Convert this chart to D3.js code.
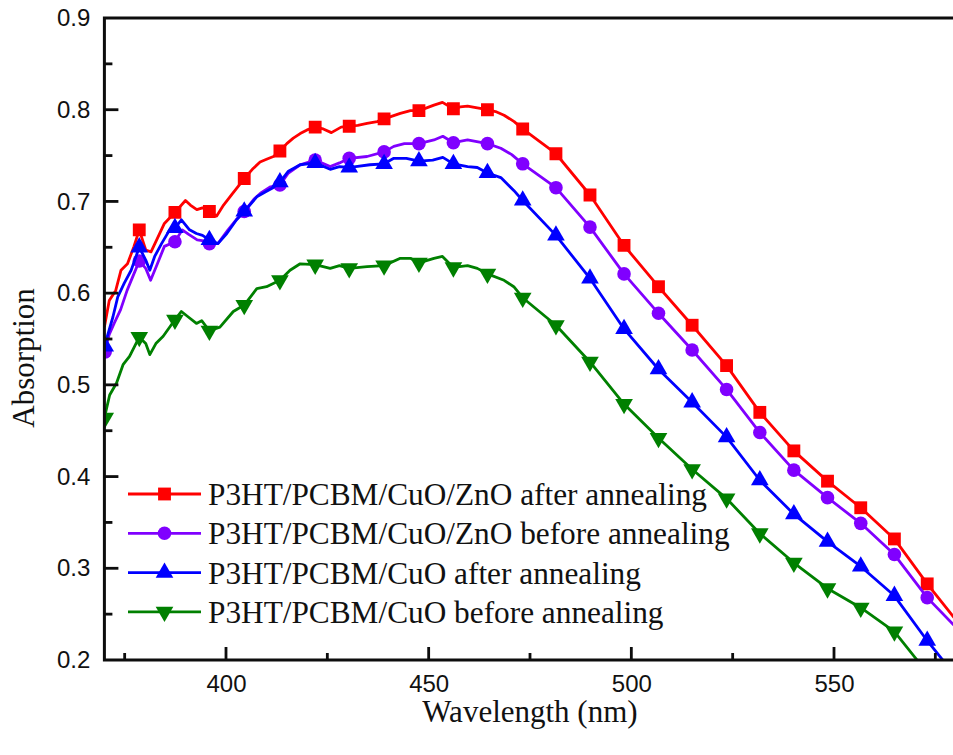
<!DOCTYPE html>
<html>
<head>
<meta charset="utf-8">
<script src="https://cdn.jsdelivr.net/npm/d3@7"></script>
<style>
  html, body { margin: 0; padding: 0; background: #fff; }
  svg { display: block; }
</style>
</head>
<body>
<svg id="chart" width="953" height="755"></svg>
<script>
// ---------------- DATA ----------------
const seriesNames = [
  "P3HT/PCBM/CuO/ZnO after annealing",
  "P3HT/PCBM/CuO/ZnO before annealing",
  "P3HT/PCBM/CuO after annealing",
  "P3HT/PCBM/CuO before annealing"
];
const seriesColors = ["#ff0000", "#8000ff", "#0000ff", "#008000"];
const seriesSymbols = ["square", "circle", "triangleUp", "triangleDown"];

const xTickValues = [400, 450, 500, 550];
const xMinorTickValues = [375, 425, 475, 525, 575];
const yTickValues = [0.2, 0.3, 0.4, 0.5, 0.6, 0.7, 0.8, 0.9];
const yMinorTickValues = [0.25, 0.35, 0.45, 0.55, 0.65, 0.75, 0.85];

// wavelengths (nm) where markers are drawn
const markerWl = [370.2, 378.6, 387.4, 395.9, 404.5, 413.3, 422.0, 430.4, 439.0, 447.6, 456.1, 464.5,
  473.2, 481.4, 489.8, 498.2, 506.7, 515.0, 523.5, 531.7, 540.1, 548.4, 556.6, 564.9, 573.0];

const redMarkers    = [null, 0.669, 0.688, 0.689, 0.725, 0.755, 0.781, 0.782, 0.790, 0.799, 0.801, 0.800,
  0.779, 0.752, 0.707, 0.652, 0.607, 0.565, 0.521, 0.470, 0.428, 0.395, 0.366, 0.332, 0.283];
const purpleMarkers = [0.536, 0.635, 0.656, 0.654, 0.689, 0.718, 0.745, 0.747, 0.754, 0.763, 0.764, 0.763,
  0.741, 0.715, 0.672, 0.621, 0.578, 0.538, 0.495, 0.448, 0.407, 0.377, 0.349, 0.315, 0.268];
const blueMarkers   = [0.542, 0.650, 0.671, 0.658, 0.689, 0.721, 0.742, 0.737, 0.741, 0.744, 0.741, 0.731,
  0.701, 0.663, 0.616, 0.561, 0.517, 0.481, 0.443, 0.396, 0.359, 0.329, 0.302, 0.270, 0.221];
const greenMarkers  = [0.464, 0.552, 0.571, 0.559, 0.587, 0.614, 0.631, 0.627, 0.630, 0.633, 0.628, 0.621,
  0.595, 0.565, 0.525, 0.479, 0.442, 0.408, 0.376, 0.338, 0.306, 0.278, 0.257, 0.231, null];

// absorption curves [wavelength nm, absorption]
const redLine = [[370.0,0.563],[371.2,0.592],[372.8,0.603],[374.1,0.625],[375.7,0.632],[377.3,0.651],[378.6,0.669],
  [380.2,0.647],[381.5,0.645],[383.1,0.660],[384.8,0.676],[387.4,0.688],[390.0,0.701],[391.2,0.696],[392.8,0.691],
  [394.2,0.693],[395.9,0.689],[397.7,0.684],[399.4,0.696],[401.5,0.708],[403.3,0.718],[404.5,0.725],[406.5,0.735],
  [408.4,0.743],[410.0,0.746],[411.7,0.749],[413.3,0.755],[415.0,0.763],[416.6,0.769],[418.3,0.774],[420.0,0.778],
  [422.0,0.781],[424.0,0.779],[426.0,0.775],[428.4,0.781],[430.4,0.782],[432.5,0.783],[434.8,0.785],[437.3,0.787],
  [439.0,0.790],[441.0,0.793],[443.0,0.796],[445.5,0.799],[447.6,0.799],[449.5,0.802],[451.3,0.805],[453.4,0.808],
  [456.1,0.801],[457.8,0.803],[459.6,0.804],[462.0,0.802],[464.5,0.800],[466.5,0.798],[468.6,0.794],[471.1,0.787],
  [473.2,0.779],[481.4,0.752],[489.8,0.707],[498.2,0.652],[506.7,0.607],[515.0,0.565],[523.5,0.521],[531.7,0.470],
  [540.1,0.428],[548.4,0.395],[556.6,0.366],[564.9,0.332],[573.0,0.283],[580.0,0.244]];

const purpleLine = [[370.0,0.536],[371.2,0.555],[372.4,0.567],[374.0,0.582],[375.6,0.603],[377.0,0.618],[378.6,0.635],
  [380.2,0.627],[381.4,0.614],[382.8,0.629],[384.8,0.651],[387.4,0.656],[389.2,0.669],[390.8,0.664],[392.9,0.658],
  [394.5,0.657],[395.9,0.654],[398.0,0.654],[400.5,0.669],[402.5,0.680],[404.5,0.689],[407.0,0.703],[408.5,0.709],
  [411.0,0.716],[413.3,0.718],[415.4,0.731],[418.3,0.740],[422.0,0.745],[425.7,0.738],[428.0,0.742],[430.4,0.747],
  [434.8,0.749],[439.0,0.754],[441.4,0.760],[444.0,0.763],[447.6,0.763],[451.3,0.767],[453.5,0.771],[456.1,0.764],
  [459.6,0.767],[464.5,0.763],[467.8,0.758],[470.5,0.751],[473.2,0.741],[481.4,0.715],[489.8,0.672],[498.2,0.621],
  [506.7,0.578],[515.0,0.538],[523.5,0.495],[531.7,0.448],[540.1,0.407],[548.4,0.377],[556.6,0.349],[564.9,0.315],
  [573.0,0.268],[580.0,0.236]];

const blueLine = [[370.0,0.542],[372.1,0.574],[373.3,0.596],[374.9,0.611],[376.6,0.625],[378.6,0.650],[380.2,0.636],
  [381.2,0.625],[382.4,0.640],[384.1,0.654],[386.1,0.669],[387.4,0.671],[389.0,0.680],[391.0,0.669],[392.7,0.665],
  [394.2,0.663],[395.9,0.658],[398.0,0.654],[400.2,0.665],[402.6,0.680],[404.5,0.689],[407.6,0.705],[410.0,0.711],
  [411.6,0.715],[413.3,0.721],[415.4,0.733],[418.3,0.740],[422.0,0.742],[425.7,0.735],[428.0,0.738],[430.4,0.737],
  [432.0,0.738],[435.5,0.740],[439.0,0.741],[441.4,0.747],[444.5,0.747],[447.6,0.744],[451.0,0.745],[453.5,0.748],
  [456.1,0.741],[459.6,0.738],[462.0,0.737],[464.5,0.731],[467.8,0.726],[471.0,0.712],[473.2,0.701],[481.4,0.663],
  [489.8,0.616],[498.2,0.561],[506.7,0.517],[515.0,0.481],[523.5,0.443],[531.7,0.396],[540.1,0.359],[548.4,0.329],
  [556.6,0.302],[564.9,0.270],[573.0,0.221],[577.0,0.199]];

const greenLine = [[370.0,0.464],[371.3,0.489],[373.0,0.502],[374.6,0.522],[376.2,0.531],[378.6,0.552],[380.2,0.545],
  [381.2,0.533],[382.7,0.545],[384.5,0.553],[387.4,0.571],[389.0,0.580],[390.7,0.574],[392.7,0.567],[394.0,0.570],
  [395.9,0.559],[398.5,0.563],[401.8,0.580],[404.5,0.587],[407.6,0.605],[410.0,0.607],[413.3,0.614],[415.8,0.625],
  [418.3,0.632],[422.0,0.631],[425.7,0.627],[428.0,0.630],[430.4,0.627],[434.8,0.629],[439.0,0.630],[443.0,0.638],
  [445.5,0.638],[447.6,0.633],[451.3,0.638],[453.4,0.640],[456.1,0.628],[459.6,0.630],[462.0,0.627],[464.5,0.621],
  [468.6,0.614],[471.0,0.607],[473.2,0.595],[481.4,0.565],[489.8,0.525],[498.2,0.479],[506.7,0.442],[515.0,0.408],
  [523.5,0.376],[531.7,0.338],[540.1,0.306],[548.4,0.278],[556.6,0.257],[564.9,0.231],[570.5,0.200]];

const seriesLines = [redLine, purpleLine, blueLine, greenLine];
const seriesMarkers = [redMarkers, purpleMarkers, blueMarkers, greenMarkers];

// ---------------- CHART ----------------
(function () {
const svg = d3.select("#chart");
const pL = 104.4, pR = 955.6, pT = 18, pB = 660;
const ink = "#0d0d0d";

const x = d3.scaleLinear().domain([370, 580]).range([pL, pR]);
const y = d3.scaleLinear().domain([0.2, 0.9]).range([pB, pT]);

svg.append("rect").attr("width", 953).attr("height", 755).attr("fill", "#ffffff");

svg.append("defs").append("clipPath").attr("id", "plotClip")
  .append("rect").attr("x", pL).attr("y", pT).attr("width", pR - pL).attr("height", pB - pT);

const symbolGen = (name, size) => {
  if (name === "square") return d3.symbol(d3.symbolSquare, size)();
  if (name === "circle") return d3.symbol(d3.symbolCircle, size)();
  return d3.symbol(d3.symbolTriangle, size)();
};
const symbolSize = { square: 165, circle: 145, triangleUp: 135, triangleDown: 135 };

const plot = svg.append("g").attr("clip-path", "url(#plotClip)");
const lineGen = d3.line().x(d => x(d[0])).y(d => y(d[1]));

seriesLines.forEach((pts, i) => {
  const g = plot.append("g");
  g.append("path").datum(pts)
    .attr("d", lineGen)
    .attr("fill", "none")
    .attr("stroke", seriesColors[i])
    .attr("stroke-width", 2.8)
    .attr("stroke-linejoin", "round");
  const mk = markerWl.map((w, k) => [w, seriesMarkers[i][k]]).filter(d => d[1] != null);
  g.selectAll("path.mk").data(mk).enter().append("path")
    .attr("class", "mk")
    .attr("d", symbolGen(seriesSymbols[i], symbolSize[seriesSymbols[i]]))
    .attr("transform", d => `translate(${x(d[0])},${y(d[1])})` + (seriesSymbols[i] === "triangleDown" ? " rotate(180)" : ""))
    .attr("fill", seriesColors[i]);
});

// frame lines
svg.append("path")
  .attr("d", `M953,${pT}H${pL}V${pB}H953`)
  .attr("fill", "none").attr("stroke", ink).attr("stroke-width", 3);

// tick marks (inward) as filled bars positioned by the scales
const ticks = svg.append("g").attr("fill", ink);
ticks.selectAll("rect.ymaj").data(yTickValues.slice(1, -1)).join("rect").attr("class", "ymaj")
  .attr("x", pL).attr("y", d => y(d) - 1.4).attr("width", 14).attr("height", 2.8);
ticks.selectAll("rect.ymin").data(yMinorTickValues).join("rect").attr("class", "ymin")
  .attr("x", pL).attr("y", d => y(d) - 1.4).attr("width", 8).attr("height", 2.8);
ticks.selectAll("rect.xmaj").data(xTickValues).join("rect").attr("class", "xmaj")
  .attr("x", d => x(d) - 1.4).attr("y", pB - 13).attr("width", 2.8).attr("height", 13);
ticks.selectAll("rect.xmin").data(xMinorTickValues).join("rect").attr("class", "xmin")
  .attr("x", d => x(d) - 1.4).attr("y", pB - 7).attr("width", 2.8).attr("height", 7);

// axis labels via d3 axes
const axisFont = "'Liberation Sans', Arial, sans-serif";
const yAxis = svg.append("g").attr("transform", `translate(${pL},0)`)
  .call(d3.axisLeft(y).tickValues(yTickValues).tickSize(0).tickPadding(14).tickFormat(d3.format(".1f")));
const xAxis = svg.append("g").attr("transform", `translate(0,${pB})`)
  .call(d3.axisBottom(x).tickValues(xTickValues).tickSize(0).tickPadding(14));
[yAxis, xAxis].forEach(a => {
  a.select(".domain").remove();
  a.selectAll(".tick line").remove();
  a.selectAll(".tick text").attr("font-family", axisFont).attr("font-size", 24).attr("fill", "#111");
});
xAxis.selectAll(".tick text").attr("dy", "0.71em").attr("y", 15);

// axis titles
const serif = "'Liberation Serif', 'Times New Roman', serif";
svg.append("text").attr("x", 530).attr("y", 722).attr("text-anchor", "middle")
  .attr("font-family", serif).attr("font-size", 31).attr("fill", "#111").text("Wavelength (nm)");
svg.append("text").attr("transform", "translate(34,358) rotate(-90)").attr("text-anchor", "middle")
  .attr("font-family", serif).attr("font-size", 31).attr("fill", "#111").text("Absorption");

// legend
const legend = svg.append("g");
seriesNames.forEach((name, i) => {
  const cy = 494 + 39.3 * i;
  legend.append("path").attr("d", `M128,${cy}H201`)
    .attr("stroke", seriesColors[i]).attr("stroke-width", 2.8).attr("fill", "none");
  legend.append("path")
    .attr("d", symbolGen(seriesSymbols[i], symbolSize[seriesSymbols[i]]))
    .attr("transform", `translate(164.5,${cy})` + (seriesSymbols[i] === "triangleDown" ? " rotate(180)" : ""))
    .attr("fill", seriesColors[i]);
  legend.append("text").attr("x", 208).attr("y", cy + 11)
    .attr("font-family", serif).attr("font-size", 31.3).attr("fill", "#111").text(name);
});
})();
</script>
</body>
</html>
